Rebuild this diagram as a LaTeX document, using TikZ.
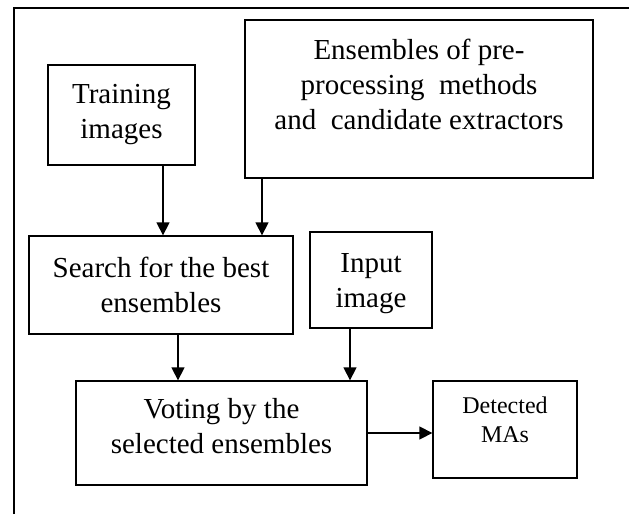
\documentclass[tikz,border=0pt]{standalone}
\usepackage{fontspec}
\setmainfont{Liberation Serif}
\usetikzlibrary{arrows.meta}
\newcommand{\liftup}[2]{\raisebox{#1pt}[\height][\depth]{\begin{tabular}{@{}c@{}}#2\end{tabular}}}
\tikzset{
  box/.style={draw, line width=1.3pt, align=center, inner sep=0pt,
    font=\fontsize{29}{35}\selectfont},
  arr/.style={line width=1.3pt, -{Triangle[length=13pt,width=13pt]}}
}
\begin{document}
\begin{tikzpicture}[x=1pt,y=-1pt]
\useasboundingbox (0,0) rectangle (629,514);
\draw [line width=2pt] (14,514) -- (14,8) -- (629,8);
\node [box, minimum width=147, minimum height=100] (train) at (121.5,115) {Training\\images};
\node [box, minimum width=348, minimum height=158] (ens) at (419,99) {\liftup{12}{Ensembles of pre-\\processing~ methods\\and~ candidate extractors}};
\node [box, minimum width=264, minimum height=98] (search) at (161,285) {Search for the best\\ensembles};
\node [box, minimum width=122, minimum height=96] (input) at (371,280) {\liftup{-3}{Input\\image}};
\node [box, minimum width=291, minimum height=104] (vote) at (221.5,433) {\liftup{4}{Voting by the\\selected ensembles}};
\node [box, minimum width=144, minimum height=97, font=\fontsize{24}{29}\selectfont] (det) at (505,429.5) {\liftup{7}{Detected\\MAs}};
\draw [arr] ([xshift=41.5]train.south) -- ([xshift=41.5]train.south |- search.north);
\draw [arr] ([xshift=-157]ens.south) -- ([xshift=-157]ens.south |- search.north);
\draw [arr] ([xshift=17]search.south) -- ([xshift=17]search.south |- vote.north);
\draw [arr] ([xshift=-21]input.south) -- ([xshift=-21]input.south |- vote.north);
\draw [arr] (vote.east) -- (vote.east -| det.west);
\end{tikzpicture}
\end{document}
